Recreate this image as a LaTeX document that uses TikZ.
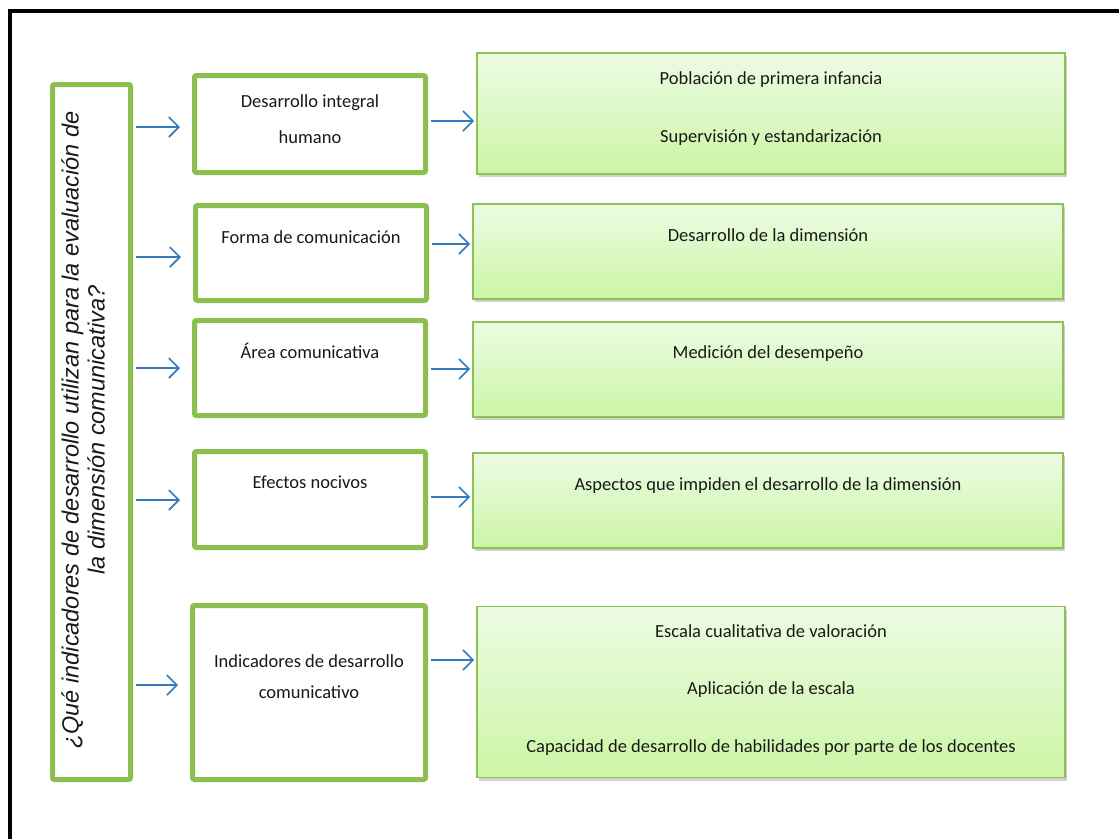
\documentclass[tikz,border=0pt]{standalone}
\usepackage{fontspec}
\setmainfont{Carlito}
\newfontfamily\qfont{Liberation Sans}
\usetikzlibrary{arrows.meta,shadows}
\definecolor{gborder}{RGB}{140,190,80}
\definecolor{rborder}{RGB}{141,193,82}
\definecolor{topg}{RGB}{236,252,228}
\definecolor{botg}{RGB}{204,245,165}
\definecolor{arrowblue}{RGB}{52,122,190}
\definecolor{txtc}{RGB}{25,25,25}
\begin{document}
\begin{tikzpicture}[x=1pt,y=-1pt,
  qbox/.style={draw=gborder, line width=5pt, rounded corners=2pt, fill=white, inner sep=0pt},
  midbox/.style={draw=gborder, line width=5pt, rounded corners=2pt, fill=white, inner sep=0pt},
  rbox/.style={draw=rborder, line width=1.8pt, top color=topg, bottom color=botg, inner sep=0pt,
    drop shadow={shadow xshift=2pt, shadow yshift=-3pt, opacity=0.3, fill=black!60}},
  txt/.style={font=\fontsize{18.5}{22}\selectfont, text=txtc, inner sep=0pt},
  arr/.style={draw=arrowblue, line width=1.6pt,
    -{Straight Barb[length=10pt,width=20pt,line width=1.6pt]}}]
\useasboundingbox (0,0) rectangle (1119,839);
\fill[white] (0,0) rectangle (1119,839);
% outer frame
\draw[line width=3.5pt] (10,839) -- (10,11) -- (1119,11);

% question box
\node[qbox, minimum width=78pt, minimum height=695pt] (q) at (91.5,432) {};
\node[font=\qfont\itshape\fontsize{23.5}{26}\selectfont, rotate=90, align=center, inner sep=0pt, text=txtc] (qt) at (83,430)
  {¿Qué indicadores de desarrollo utilizan para la evaluación de\\la dimensión comunicativa?};

% middle boxes
\node[midbox, minimum width=231pt, minimum height=97pt] (m1) at (310,124) {};
\node[midbox, minimum width=231pt, minimum height=95pt] (m2) at (311,253) {};
\node[midbox, minimum width=231pt, minimum height=95pt] (m3) at (310,368) {};
\node[midbox, minimum width=231pt, minimum height=96pt] (m4) at (310,499.5) {};
\node[midbox, minimum width=233pt, minimum height=174pt] (m5) at (309,692.5) {};

% right boxes
\node[rbox, minimum width=588pt, minimum height=121pt] (r1) at (771,113.5) {};
\node[rbox, minimum width=590pt, minimum height=95pt] (r2) at (768,251.5) {};
\node[rbox, minimum width=590pt, minimum height=95pt] (r3) at (768,369.5) {};
\node[rbox, minimum width=590pt, minimum height=95pt] (r4) at (768,500.5) {};
\node[rbox, minimum width=588pt, minimum height=171pt] (r5) at (771,692) {};

% texts
\node[txt] (m1a) at (310,103) {Desarrollo integral};
\node[txt] (m1b) at (310,137) {humano};
\node[txt] (m2a) at (311,237) {Forma de comunicación};
\node[txt] (m3a) at (310,351) {Área comunicativa};
\node[txt] (m4a) at (310,482) {Efectos nocivos};
\node[txt] (m5a) at (309,661) {Indicadores de desarrollo};
\node[txt] (m5b) at (309,692) {comunicativo};

\node[txt] (r1a) at (771,80) {Población de primera infancia};
\node[txt] (r1b) at (771,138) {Supervisión y estandarización};
\node[txt] (r2a) at (768,235) {Desarrollo de la dimensión};
\node[txt] (r3a) at (768,354) {Medición del desempeño};
\node[txt] (r4a) at (768,486) {Aspectos que impiden el desarrollo de la dimensión};
\node[txt] (r5a) at (771,631) {Escala cualitativa de valoración};
\node[txt] (r5b) at (771,690) {Aplicación de la escala};
\node[txt] (r5c) at (771,748) {Capacidad de desarrollo de habilidades por parte de los docentes};

% arrow levels
\coordinate (ya1) at (0,127);
\coordinate (ya2) at (0,257);
\coordinate (ya3) at (0,368);
\coordinate (ya4) at (0,500);
\coordinate (ya5) at (0,685);
\coordinate (yb1) at (0,121);
\coordinate (yb2) at (0,244);
\coordinate (yb3) at (0,369);
\coordinate (yb4) at (0,497);
\coordinate (yb5) at (0,660);

\foreach \i in {1,...,5}{
  \draw[arr, shorten <=3pt, shorten >=12pt] (q.east |- ya\i) -- (m\i.west |- ya\i);
  \draw[arr, shorten <=3pt, shorten >=2pt] (m\i.east |- yb\i) -- (r\i.west |- yb\i);
}
\end{tikzpicture}
\end{document}
